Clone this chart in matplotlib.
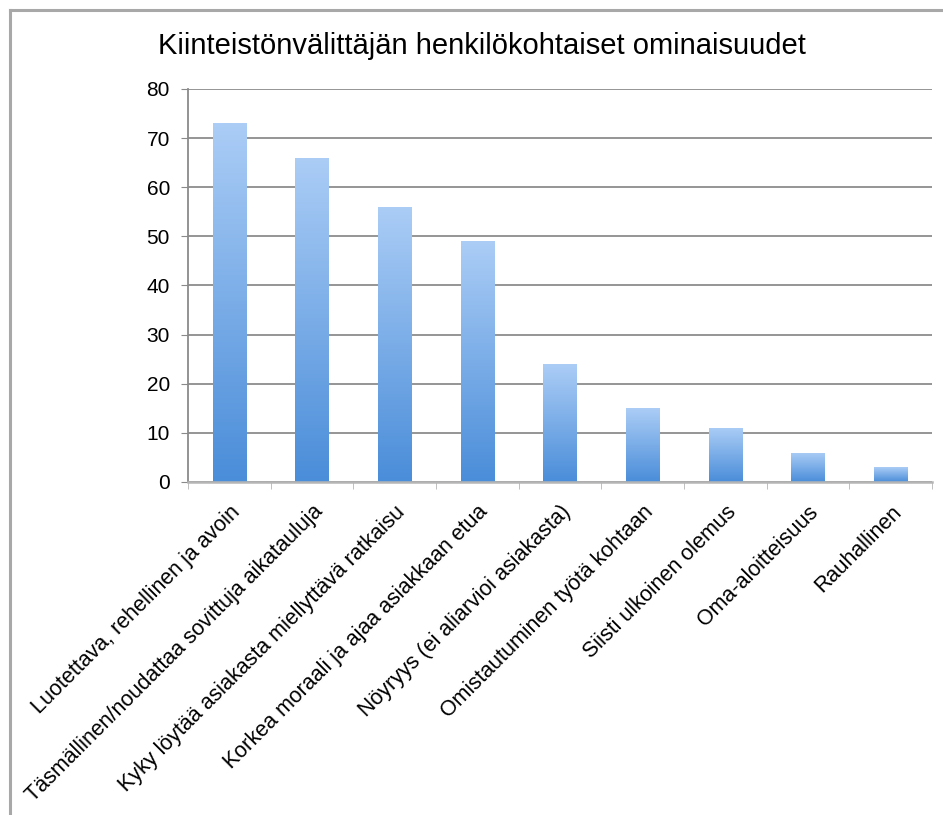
#Bar chart of the personal qualities of a real estate agent

import numpy as np
import matplotlib.pyplot as plt
from matplotlib.colors import LinearSegmentedColormap
from matplotlib.lines import Line2D

plt.rcParams['font.family'] = ['Liberation Sans', 'DejaVu Sans']

title = 'Kiinteistönvälittäjän henkilökohtaiset ominaisuudet'

categories = ['Luotettava, rehellinen ja avoin',
              'Täsmällinen/noudattaa sovittuja aikatauluja',
              'Kyky löytää asiakasta miellyttävä ratkaisu',
              'Korkea moraali ja ajaa asiakkaan etua',
              'Nöyryys (ei aliarvioi asiakasta)',
              'Omistautuminen työtä kohtaan',
              'Siisti ulkoinen olemus',
              'Oma-aloitteisuus',
              'Rauhallinen']
values = [73, 66, 56, 49, 24, 15, 11, 6, 3]
yticks = [0, 10, 20, 30, 40, 50, 60, 70, 80]

fig = plt.figure(figsize=(9.43, 8.15), dpi=100)
ax = fig.add_axes([0.1994, 0.4086, 0.7889, 0.4822])

x = np.arange(len(categories))
bars = ax.bar(x, values, width=0.4, color='none', edgecolor='none', zorder=3)

#gradient fill for each bar, light on top and darker at the bottom
cmap = LinearSegmentedColormap.from_list('barfade', ['#4a8dd9', '#abcdf6'])
grad = np.linspace(0, 1, 256).reshape(-1, 1)
for b in bars:
	x0 = b.get_x()
	x1 = x0 + b.get_width()
	h = b.get_height()
	im = ax.imshow(grad, cmap=cmap, origin='lower', aspect='auto',
	               extent=[x0, x1, 0, h], zorder=3)
	im.set_clip_path(b)

ax.set_xlim(-0.5, len(categories) - 0.5)
ax.set_ylim(0, 80)
ax.set_yticks(yticks)
ax.tick_params(axis='y', labelsize=15, length=5, color='#8a8a8a', pad=8)

ax.set_xticks(x)
ax.set_xticklabels(categories, rotation=45, ha='right', rotation_mode='anchor', fontsize=15.5)
ax.tick_params(axis='x', which='major', length=0, pad=14)
ax.set_xticks(np.arange(len(categories) + 1) - 0.5, minor=True)
ax.tick_params(axis='x', which='minor', length=5, color='#b5b5b5')

ax.grid(axis='y', color='#8c8c8c', linewidth=1.3, zorder=0)
ax.set_axisbelow(True)
for s in ['top', 'right']:
	ax.spines[s].set_visible(False)
ax.spines['left'].set_color('#8a8a8a')
ax.spines['left'].set_linewidth(1.3)
ax.spines['bottom'].set_color('#b5b5b5')
ax.spines['bottom'].set_linewidth(1.8)
ax.spines['bottom'].set_zorder(4)

fig.text(0.511, 0.944, title, ha='center', va='center', fontsize=21)

#grey frame around the chart (left and top edges)
fig.add_artist(Line2D([0.0106, 0.0106], [0.0, 0.9877], color='#a8a8a8', lw=2.2))
fig.add_artist(Line2D([0.0106, 1.0], [0.9877, 0.9877], color='#a8a8a8', lw=2.2))

plt.savefig('out.png', dpi=100)
